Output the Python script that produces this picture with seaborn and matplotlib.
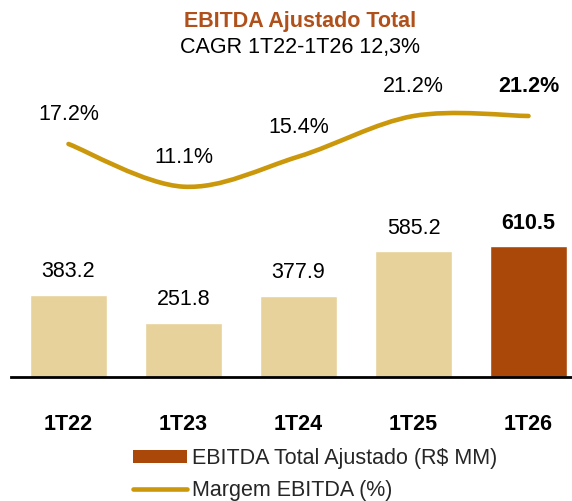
"""
EBITDA Ajustado Total - bars (R$ MM) with smoothed EBITDA margin line on top
"""

import matplotlib
matplotlib.use('Agg')
import matplotlib.pyplot as plt
import seaborn as sns
import numpy as np
from matplotlib.path import Path
from matplotlib.patches import PathPatch, Patch
from matplotlib.lines import Line2D

# chart data
quarters = ['1T22', '1T23', '1T24', '1T25', '1T26']
ebitda = [383.2, 251.8, 377.9, 585.2, 610.5]
margin = [17.2, 11.1, 15.4, 21.2, 21.2]
ebitda_labels = ['383.2', '251.8', '377.9', '585.2', '610.5']
margin_labels = ['17.2%', '11.1%', '15.4%', '21.2%', '21.2%']

title = 'EBITDA Ajustado Total'
subtitle = 'CAGR 1T22-1T26 12,3%'
legend_bar = 'EBITDA Total Ajustado (R$ MM)'
legend_line = 'Margem EBITDA (%)'

# colours
LIGHT = '#E8D29C'
DARK = '#AA4809'
GOLD = '#CA980A'
TITLE_COLOR = '#B0501A'
FS = 15.5

sns.set_theme(style='white')
plt.rcParams['font.family'] = ['Liberation Sans', 'DejaVu Sans']

W, H = 572, 501
fig = plt.figure(figsize=(W / 100, H / 100), dpi=100)

# axes placed in pixel terms: left 11px, right edge, bottom at y=377px, top at y=60px
ax = fig.add_axes([11 / W, (H - 377) / H, (W - 11) / W, (377 - 60) / H])

bar_colors = [LIGHT, LIGHT, LIGHT, LIGHT, DARK]
sns.barplot(x=quarters, y=ebitda, hue=quarters, palette=bar_colors,
            legend=False, width=0.67, saturation=1, ax=ax)

ax.set_xlim(-0.5, (W - 68.5) / 115)
ax.set_ylim(0, 317 / 0.2145)

for i, (v, lab) in enumerate(zip(ebitda, ebitda_labels)):
    ax.annotate(lab, (i, v), xytext=(0, 23), textcoords='offset pixels',
                ha='center', va='center', fontsize=FS,
                fontweight='bold' if i == len(ebitda) - 1 else 'normal',
                color='black')

ax.set_xlabel('')
ax.set_ylabel('')
ax.set_yticks([])
ax.set_xticks(range(len(quarters)))
ax.set_xticklabels(quarters, fontsize=FS, fontweight='bold', color='black')
ax.tick_params(axis='x', length=0, pad=26.5)
for side in ['top', 'left', 'right']:
    ax.spines[side].set_visible(False)
ax.spines['bottom'].set_color('black')
ax.spines['bottom'].set_linewidth(2)

# margin line on twin axis, smoothed like a spreadsheet "smooth line"
ax2 = ax.twinx()
ax2.set_ylim(21.2 - 261 / 7.0, 21.2 + 56 / 7.0)
ax2.set_xlim(ax.get_xlim())
ax2.axis('off')

pts = np.column_stack([np.arange(len(margin)), margin]).astype(float)
ext = np.vstack([pts[0], pts, pts[-1]])
verts = [tuple(pts[0])]
codes = [Path.MOVETO]
for i in range(len(pts) - 1):
    p0, p1, p2, p3 = ext[i], ext[i + 1], ext[i + 2], ext[i + 3]
    c1 = p1 + (p2 - p0) / 6
    c2 = p2 - (p3 - p1) / 6
    verts += [tuple(c1), tuple(c2), tuple(p2)]
    codes += [Path.CURVE4] * 3
curve = PathPatch(Path(verts, codes), facecolor='none', edgecolor=GOLD,
                  linewidth=3.3, capstyle='round')
ax2.add_patch(curve)

for i, (v, lab) in enumerate(zip(margin, margin_labels)):
    ax2.annotate(lab, (i, v), xytext=(0, 29), textcoords='offset pixels',
                 ha='center', va='center', fontsize=FS,
                 fontweight='bold' if i == len(margin) - 1 else 'normal',
                 color='black')

# titles
fig.text(0.525, (H - 22) / H, title, ha='center', va='center',
         fontsize=FS, fontweight='bold', color=TITLE_COLOR)
fig.text(0.525, (H - 47) / H, subtitle, ha='center', va='center',
         fontsize=FS, color='black')

# legend
handles = [Patch(facecolor=DARK, edgecolor='none'),
           Line2D([], [], color=GOLD, linewidth=3.3, solid_capstyle='round')]
fig.legend(handles, [legend_bar, legend_line], loc='upper left',
           bbox_to_anchor=(133 / W, (H - 448) / H), frameon=False,
           fontsize=FS, handlelength=2.5, handleheight=0.55,
           handletextpad=0.25, labelspacing=0.5, borderpad=0,
           borderaxespad=0)

fig.savefig('out.png', dpi=100)
plt.close(fig)
